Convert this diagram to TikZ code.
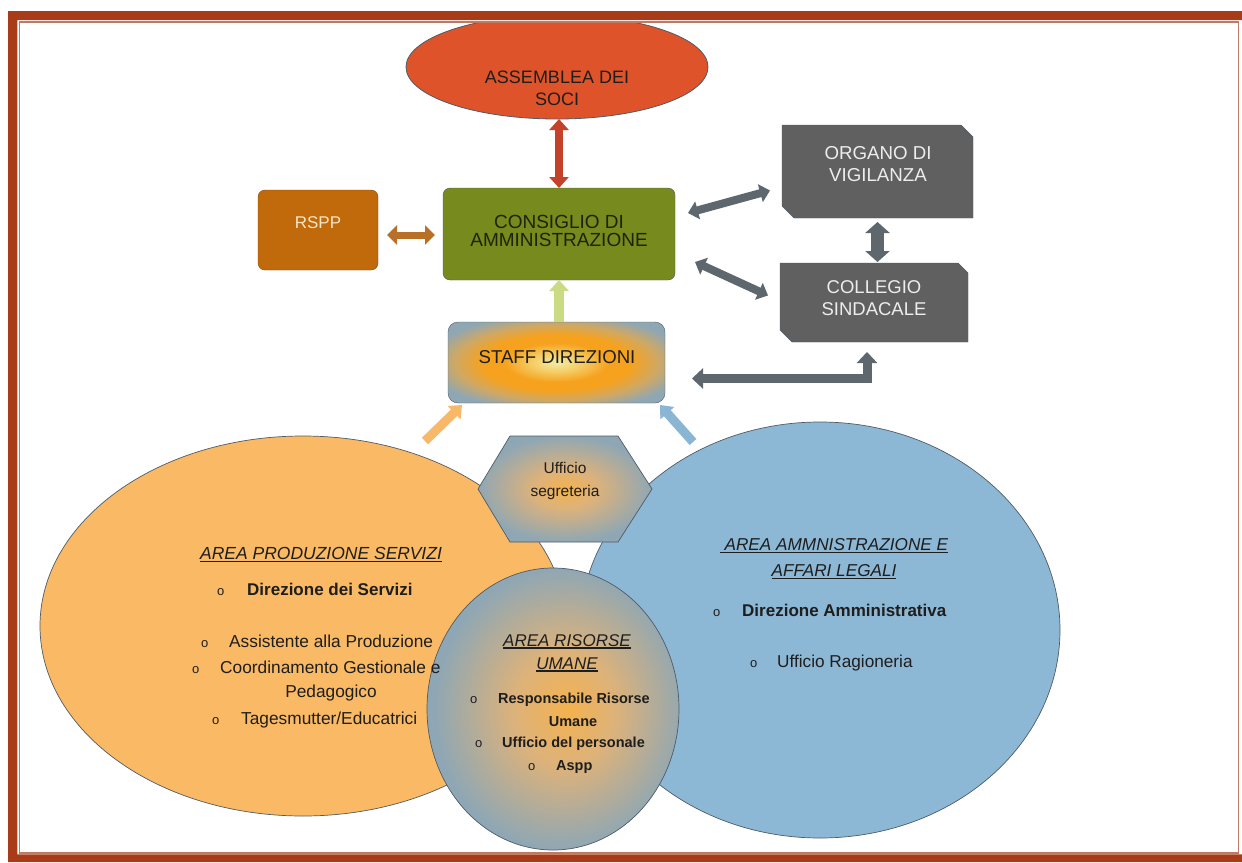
\documentclass[tikz,border=0pt]{standalone}
\usepackage{fontspec}
\setmainfont{Liberation Sans}
\usetikzlibrary{shapes.geometric,arrows.meta,calc}
\definecolor{rust}{HTML}{A83C18}
\definecolor{rustthin}{HTML}{C07A62}
\definecolor{assred}{HTML}{DF532A}
\definecolor{rsppc}{HTML}{C06A0C}
\definecolor{olive}{HTML}{768A1E}
\definecolor{darkgrey}{HTML}{606060}
\definecolor{arrgrey}{HTML}{5E676E}
\definecolor{redarrow}{HTML}{C4412A}
\definecolor{brownarrow}{HTML}{B87028}
\definecolor{greenarrow}{HTML}{C9DC84}
\definecolor{orangearrow}{HTML}{F8B86A}
\definecolor{bluearrow}{HTML}{8AB6D4}
\definecolor{orangeell}{HTML}{FAB964}
\definecolor{blueell}{HTML}{8DB8D5}
\definecolor{bluegrey}{HTML}{8FA7B4}
\definecolor{gorange}{HTML}{F6A21E}
\definecolor{gcream}{HTML}{F2ECA6}
\definecolor{gmid}{HTML}{F5CB62}
\definecolor{gtan}{HTML}{D2A860}
\definecolor{hexc}{HTML}{F4B24E}
\definecolor{hexm}{HTML}{DDB27A}
\definecolor{outl}{HTML}{4F5B66}
\definecolor{txtdark}{HTML}{1E1E1E}
\definecolor{txtlight}{HTML}{EDEDED}
\definecolor{rspptxt}{HTML}{F6E7C8}
\definecolor{olivetxt}{HTML}{1E2308}
\pgfdeclareradialshading{staffshade}{\pgfpoint{0bp}{0bp}}{color(0bp)=(gcream); color(6bp)=(gmid); color(12bp)=(gorange); color(17bp)=(gorange); color(23bp)=(gtan); color(30bp)=(bluegrey); color(50bp)=(bluegrey)}
\pgfdeclareradialshading{hexshade}{\pgfpoint{0bp}{0bp}}{color(0bp)=(hexc); color(9bp)=(hexm); color(25bp)=(bluegrey); color(50bp)=(bluegrey)}
\pgfdeclareradialshading{risshade}{\pgfpoint{3bp}{0bp}}{color(0bp)=(hexc); color(10bp)=(hexm); color(25bp)=(bluegrey); color(50bp)=(bluegrey)}
\newcommand{\fs}[2]{\fontsize{#1}{#2}\selectfont}
\newcommand{\bul}[1]{\makebox[#1pt][l]{\fontsize{13}{13}\selectfont\mdseries o}}
\newcommand{\myul}[1]{\leavevmode\setbox0\hbox{#1}\rlap{\rule[-2.6pt]{\wd0}{1.3pt}}\box0}
\tikzset{
  shp/.style={inner sep=0pt, outer sep=0pt},
  txt/.style={inner sep=0pt, align=center, text=txtdark},
  li/.style={inner sep=0pt, anchor=west, text=txtdark},
  dblk/.style n args={4}{draw=#1, line width=#2, {Triangle[width=#3,length=#4]}-{Triangle[width=#3,length=#4]}},
  sblk/.style n args={4}{draw=#1, line width=#2, -{Triangle[width=#3,length=#4]}},
}
\begin{document}
\begin{tikzpicture}[x=1pt,y=-1pt]
\useasboundingbox (0,0) rectangle (1242,862);
\fill[white] (0,0) rectangle (1242,862);
% top shapes
\begin{scope}
\clip (0,22) rectangle (1242,862);
\node[shp, ellipse, fill=assred, draw=outl, line width=0.8pt, minimum width=302pt, minimum height=104pt] (assem) at (557,67) {};
\end{scope}
\node[shp, rounded corners=7pt, fill=rsppc, draw=rsppc!70!black, minimum width=120pt, minimum height=80pt] (rspp) at (318,230) {};
\node[shp, rounded corners=7pt, fill=olive, draw=outl, minimum width=232pt, minimum height=92pt] (cons) at (559,234) {};
\node[shp, minimum width=191pt, minimum height=93pt] (organo) at (877.5,171.5) {};
\filldraw[fill=darkgrey, draw=outl] (organo.north west) -- ($(organo.north east)+(-12,0)$) -- ($(organo.north east)+(0,12)$) -- (organo.south east) -- ($(organo.south west)+(12,0)$) -- ($(organo.south west)+(0,-12)$) -- cycle;
\node[shp, minimum width=188pt, minimum height=79pt] (collegio) at (874,302.5) {};
\filldraw[fill=darkgrey, draw=outl] (collegio.north west) -- ($(collegio.north east)+(-10,0)$) -- ($(collegio.north east)+(0,10)$) -- (collegio.south east) -- ($(collegio.south west)+(12,0)$) -- ($(collegio.south west)+(0,-12)$) -- cycle;
\node[shp, rounded corners=10pt, shading=staffshade, draw=outl, minimum width=217pt, minimum height=81pt] (staff) at (556.5,362.5) {};
% areas
\node[shp, ellipse, fill=orangeell, draw=outl, line width=0.7pt, minimum width=526pt, minimum height=380pt] (prod) at (303,626) {};
\node[shp, ellipse, fill=blueell, draw=outl, line width=0.7pt, minimum width=480pt, minimum height=416pt] (amm) at (820,630) {};
\node[shp, minimum width=174pt, minimum height=106pt] (hexa) at (565,489) {};
\path[shading=hexshade, draw=outl, line width=0.7pt] ($(hexa.north west)+(32,0)$) -- ($(hexa.north east)+(-34,0)$) -- (hexa.east) -- ($(hexa.south east)+(-34,0)$) -- ($(hexa.south west)+(32,0)$) -- (hexa.west) -- cycle;
\node[shp, ellipse, shading=risshade, draw=outl, line width=0.7pt, minimum width=252pt, minimum height=282pt] (ris) at (553,709) {};
% arrows
\draw[dblk={redarrow}{8pt}{19pt}{11pt}] (cons.north |- assem.south) -- (cons.north);
\draw[dblk={brownarrow}{7pt}{19pt}{10pt}] ($(rspp.east)+(9,5)$) -- ($(cons.west)+(-8,1)$);
\draw[dblk={arrgrey}{8pt}{18pt}{10pt}] ($(cons.east)+(13,-21)$) -- ($(organo.west)+(-12,19)$);
\draw[dblk={arrgrey}{8pt}{18pt}{10pt}] ($(cons.east)+(20,28)$) -- ($(collegio.west)+(-12,-7)$);
\draw[dblk={arrgrey}{13pt}{24pt}{11pt}] ($(organo.south)+(0,4)$) -- ($(organo.south |- collegio.north)+(0,-1)$);
\draw[sblk={greenarrow}{10pt}{19pt}{11pt}] (cons.south |- staff.north) -- (cons.south);
\draw[dblk={arrgrey}{9pt}{20pt}{11pt}] ($(collegio.south)+(-7,10)$) |- ($(staff.east)+(27,16)$);
\draw[sblk={orangearrow}{9pt}{18pt}{11pt}] ($(staff.south west)+(-23,38)$) -- ($(staff.south west)+(14,2)$);
\draw[sblk={bluearrow}{9pt}{18pt}{11pt}] ($(staff.south east)+(28,39)$) -- ($(staff.south east)+(-5,2)$);
% texts
\node[txt, font=\fs{18}{22}] (assemt) at (557,88) {ASSEMBLEA DEI\\SOCI};
\node[txt, font=\fs{17}{17}, text=rspptxt] (rsppt) at (318,223) {RSPP};
\node[txt, font=\fs{19}{18.5}, text=olivetxt] (const) at (559,231) {CONSIGLIO DI\\AMMINISTRAZIONE};
\node[txt, font=\fs{18.7}{22}, text=txtlight] (organot) at (878,164) {ORGANO DI\\VIGILANZA};
\node[txt, font=\fs{18.5}{22}, text=txtlight] (collegiot) at (874,298) {COLLEGIO\\SINDACALE};
\node[txt, font=\fs{18.6}{20}] (stafft) at (557,357) {STAFF DIREZIONI};
\node[txt, font=\fs{15.5}{23}] (hexat) at (565,481) {Ufficio\\segreteria};
\node[txt, font=\fs{17.5}{20}\itshape] (prodt) at (321,555) {\myul{AREA PRODUZIONE SERVIZI}};
\node[li, font=\fs{17}{20}\bfseries] (prod1) at (217,589) {\bul{30}Direzione dei Servizi};
\node[li, font=\fs{17.3}{20}] (prod2) at (201,641) {\bul{28}Assistente alla Produzione};
\node[li, font=\fs{17.3}{20}] (prod3) at (192,667) {\bul{28}Coordinamento Gestionale e};
\node[txt, font=\fs{17.3}{20}] (prod4) at (331,693) {Pedagogico};
\node[li, font=\fs{17.3}{20}] (prod5) at (212,720) {\bul{29}Tagesmutter/Educatrici};
\node[txt, font=\fs{17.2}{26}\itshape] (ammt) at (834,559) {\myul{\ AREA AMMNISTRAZIONE E}\\\myul{AFFARI LEGALI}};
\node[li, font=\fs{17}{20}\bfseries] (amm1) at (713,610) {\bul{29}Direzione Amministrativa};
\node[li, font=\fs{17.2}{20}] (amm2) at (750,663) {\bul{27}Ufficio Ragioneria};
\node[txt, font=\fs{17}{23}\itshape] (rist) at (567,653) {\myul{AREA RISORSE}\\\myul{UMANE}};
\node[li, font=\fs{14.5}{17}\bfseries] (ris1) at (470,700) {\bul{28}Responsabile Risorse};
\node[txt, font=\fs{14.5}{17}\bfseries] (ris2) at (573,722) {Umane};
\node[li, font=\fs{14.5}{17}\bfseries] (ris3) at (475,744) {\bul{27}Ufficio del personale};
\node[li, font=\fs{14.5}{17}\bfseries] (ris4) at (528,767) {\bul{28}Aspp};
% frame
\fill[rust, even odd rule] (8,11) rectangle (1242,862) (17.3,20) rectangle (1242,854.3);
\draw[rustthin, line width=1.5pt] (19.5,22.2) rectangle (1238.7,852.8);
\end{tikzpicture}
\end{document}
